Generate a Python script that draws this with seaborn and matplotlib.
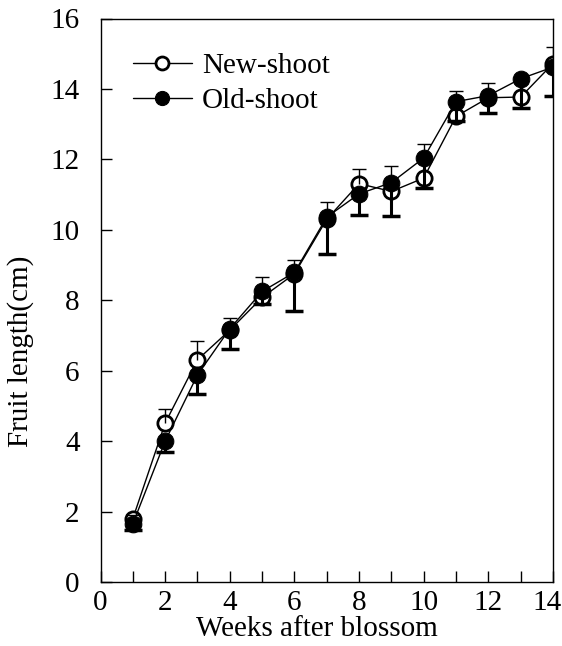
import numpy as np
import pandas as pd
import matplotlib
matplotlib.use("Agg")
import matplotlib.pyplot as plt
import matplotlib.transforms as mtransforms
import seaborn as sns

# values
weeks = [1, 2, 3, 4, 5, 6, 7, 8, 9, 10, 11, 12, 13, 14]
new_shoot = [1.80, 4.51, 6.31, 7.15, 8.08, 8.75, 10.30, 11.31, 11.09, 11.47, 13.22, 13.75, 13.77, 14.72]
old_shoot = [1.65, 4.00, 5.88, 7.19, 8.25, 8.79, 10.36, 11.02, 11.34, 12.04, 13.64, 13.81, 14.29, 14.62]
new_err = [0.10, 0.40, 0.54, 0.36, 0.59, 0.40, 0.49, 0.41, 0.71, 0.96, 0.73, 0.43, 0.40, 0.46]
old_err = [0.17, 0.30, 0.54, 0.57, 0.35, 1.09, 1.04, 0.61, 0.96, 0.86, 0.56, 0.48, 0.83, 0.83]

df = pd.DataFrame({
    "week": weeks * 2,
    "length": new_shoot + old_shoot,
    "shoot": ["New-shoot"] * len(weeks) + ["Old-shoot"] * len(weeks),
})
new_top = np.array(new_shoot) + np.array(new_err)
old_bot = np.array(old_shoot) - np.array(old_err)

sns.set_theme(style="ticks")
plt.rcParams["font.family"] = ["Liberation Serif", "DejaVu Serif"]
plt.rcParams["font.size"] = 21
plt.rcParams["text.color"] = "black"
plt.rcParams["axes.labelcolor"] = "black"

fig = plt.figure(figsize=(5.62, 6.46), dpi=100)
ax = fig.add_axes([100.5 / 562, 1 - 582 / 646, 452.5 / 562, 563.5 / 646])

# new-shoot: open circles, thin error bars going up
sns.lineplot(data=df[df.shoot == "New-shoot"], x="week", y="length", ax=ax,
             color="black", linewidth=1, marker="o", markersize=11,
             markerfacecolor="white", markeredgecolor="black", markeredgewidth=2,
             label="New-shoot", zorder=2)
ax.vlines(weeks, new_shoot, new_top, color="black", linewidth=1, zorder=3)
ax.plot(weeks, new_top, ls="none", marker="_", markersize=10,
        markeredgewidth=1, color="black", zorder=3)

# old-shoot: filled circles, thick error bars going down
ax.vlines(weeks, old_bot, old_shoot, color="black", linewidth=2.2, zorder=3)
ax.plot(weeks, old_bot, ls="none", marker="_", markersize=13,
        markeredgewidth=2.5, color="black", zorder=3)
sns.lineplot(data=df[df.shoot == "Old-shoot"], x="week", y="length", ax=ax,
             color="black", linewidth=1, marker="o", markersize=12,
             markerfacecolor="black", markeredgecolor="black",
             label="Old-shoot", zorder=4)

ax.set_xlim(0, 14)
ax.set_ylim(0, 16)
ax.set_xticks(range(0, 15, 2))
ax.set_xticks(range(1, 15, 2), minor=True)
ax.set_yticks(range(0, 17, 2))
ax.tick_params(axis="both", which="both", direction="in", length=8, width=1,
               labelsize=21, colors="black")
ax.tick_params(axis="x", pad=6)
ax.tick_params(axis="y", pad=15)
for s in ax.spines.values():
    s.set_linewidth(1)
    s.set_color("black")

# last x label sits a little to the left, as in the reference
last = ax.get_xticklabels()[-1]
last.set_transform(last.get_transform() +
                   mtransforms.ScaledTranslation(-6 / 100, 0, fig.dpi_scale_trans))

ax.set_xlabel("Weeks after blossom", fontsize=21, labelpad=0, color="black")
ax.xaxis.label.set_x(0.478)
ax.set_ylabel("Fruit length(cm)", fontsize=21, color="black")
ax.yaxis.set_label_coords(-0.147, 0.41)

leg = ax.legend(loc="upper left", bbox_to_anchor=(0.04, 0.965), frameon=False,
                handlelength=2.0, handletextpad=0.35, labelspacing=0.3,
                borderpad=0, markerscale=0.85, fontsize=21)
for t in leg.get_texts():
    t.set_color("black")

fig.savefig("out.png", dpi=100)
